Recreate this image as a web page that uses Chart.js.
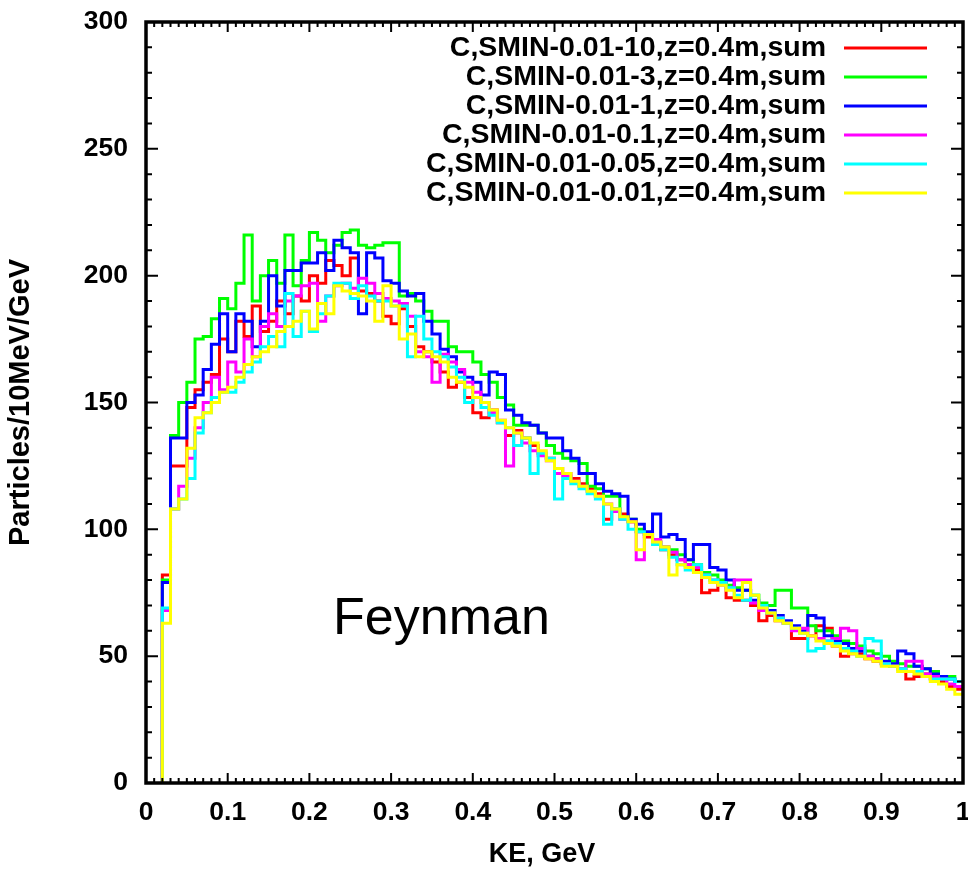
<!DOCTYPE html>
<html>
<head>
<meta charset="utf-8">
<script src="https://cdn.jsdelivr.net/npm/chart.js@4.4.0/dist/chart.umd.min.js"></script>
<style>
  html, body { margin: 0; padding: 0; background: #fff; }
  canvas { display: block; }
</style>
</head>
<body>
<canvas id="graf" width="968" height="871"></canvas>
<script>
// ---- DADOS: contagens por bin de 10 MeV, a partir de KE = 0.02 GeV ----
const firstBin = 0.02;
const binWidth = 0.01;

const seriesNames = [
  "C,SMIN-0.01-10,z=0.4m,sum",
  "C,SMIN-0.01-3,z=0.4m,sum",
  "C,SMIN-0.01-1,z=0.4m,sum",
  "C,SMIN-0.01-0.1,z=0.4m,sum",
  "C,SMIN-0.01-0.05,z=0.4m,sum",
  "C,SMIN-0.01-0.01,z=0.4m,sum"
];
const seriesColors = ["#ff0000", "#00ff00", "#0000ff", "#ff00ff", "#00ffff", "#ffff00"];

const smin10 = [
  82, 125, 125, 148, 155, 158, 161, 175, 170, 182,
  176, 188, 178, 182, 190, 185, 192, 190, 200, 197,
  206, 204, 200, 207, 194, 193, 190, 184, 181, 187,
  180, 172, 170, 166, 162, 156, 158, 152, 146, 144,
  147, 142, 137, 139, 136, 133, 130, 128, 124, 122,
  120, 118, 116, 114, 104, 108, 106, 103, 99, 97,
  95, 92, 90, 88, 86, 84, 75, 76, 79, 73,
  72, 72, 70, 64, 66, 64, 63, 57, 57, 58,
  62, 61, 54, 50, 51, 51, 49, 48, 47, 46,
  45, 41, 42, 43, 41, 40, 38, 37
];
const smin3 = [
  80, 137, 150, 158, 175, 176, 183, 191, 187, 197,
  216, 190, 200, 206, 197, 216, 196, 206, 217, 214,
  209, 212, 217, 218, 212, 211, 212, 213, 213, 192,
  193, 190, 186, 182, 182, 172, 170, 170, 166, 161,
  158, 152, 149, 141, 141, 141, 138, 133, 130, 128,
  127, 126, 117, 116, 113, 113, 105, 104, 100, 98,
  95, 93, 92, 90, 88, 86, 83, 82, 80, 78,
  77, 76, 74, 71, 70, 76, 76, 69, 69, 62,
  60, 60, 58, 56, 55, 54, 52, 51, 50, 48,
  47, 46, 46, 45, 44, 42, 42, 40
];
const smin1 = [
  79, 136, 136, 150, 153, 163, 173, 185, 170, 185,
  182, 172, 182, 200, 188, 202, 202, 205, 205, 209,
  202, 214, 211, 209, 185, 209, 207, 198, 197, 194,
  192, 193, 182, 177, 171, 168, 162, 160, 158, 153,
  162, 161, 147, 145, 142, 141, 138, 136, 136, 131,
  128, 122, 122, 118, 115, 114, 113, 104, 102, 99,
  106, 97, 98, 96, 88, 94, 94, 85, 84, 80,
  76, 76, 72, 70, 68, 66, 64, 62, 60, 66,
  65, 58, 56, 55, 53, 52, 50, 49, 48, 47,
  52, 51, 46, 45, 43, 42, 41, 40
];
const smin01 = [
  68, 108, 117, 128, 140, 150, 160, 155, 166, 162,
  175, 168, 180, 185, 180, 190, 192, 196, 197, 182,
  192, 196, 197, 195, 199, 197, 193, 191, 190, 189,
  184, 170, 168, 158, 169, 166, 163, 158, 154, 150,
  146, 143, 125, 138, 134, 131, 129, 127, 122, 121,
  119, 117, 115, 113, 110, 107, 104, 103, 88, 98,
  96, 93, 91, 88, 86, 85, 82, 80, 78, 77,
  80, 80, 71, 68, 67, 65, 63, 60, 61, 58,
  57, 56, 57, 61, 60, 53, 50, 49, 47, 46,
  45, 48, 48, 43, 42, 41, 39, 38
];
const smin005 = [
  69, 108, 112, 120, 138, 146, 152, 154, 154, 158,
  162, 166, 172, 176, 172, 193, 176, 186, 178, 185,
  192, 197, 197, 191, 196, 192, 190, 190, 188, 188,
  168, 184, 175, 170, 168, 164, 160, 150, 152, 148,
  145, 142, 140, 133, 136, 122, 130, 128, 112, 120,
  118, 116, 114, 112, 102, 108, 104, 100, 99, 98,
  94, 92, 89, 86, 84, 86, 82, 80, 79, 77,
  74, 72, 74, 70, 67, 65, 63, 61, 59, 52,
  53, 56, 55, 53, 52, 50, 57, 56, 47, 46,
  45, 44, 44, 42, 41, 41, 41, 40
];
const smin001 = [
  63, 108, 112, 132, 144, 146, 150, 154, 156, 160,
  165, 168, 170, 172, 178, 180, 182, 186, 179, 189,
  185, 196, 194, 193, 192, 190, 182, 196, 188, 175,
  177, 168, 170, 168, 166, 160, 158, 156, 152, 150,
  147, 143, 140, 138, 136, 134, 131, 127, 124, 122,
  119, 117, 115, 113, 110, 108, 105, 103, 92, 98,
  95, 93, 82, 86, 85, 83, 81, 79, 78, 76,
  73, 79, 74, 69, 67, 64, 63, 61, 59, 58,
  56, 55, 54, 52, 51, 50, 49, 48, 46, 46,
  44, 44, 43, 42, 40, 39, 37, 35
];

const xTicks = [0, 0.1, 0.2, 0.3, 0.4, 0.5, 0.6, 0.7, 0.8, 0.9, 1];
const yTicks = [0, 50, 100, 150, 200, 250, 300];

// ---- histograma em degraus: cada valor cobre [x, x + 0.01] ----
function toSteps(vals) {
  const pts = [{ x: firstBin, y: 0 }];
  vals.forEach((v, i) => pts.push({ x: +(firstBin + i * binWidth).toFixed(2), y: v }));
  pts.push({ x: 1.0, y: vals[vals.length - 1] });
  return pts;
}

const allSeries = [smin10, smin3, smin1, smin01, smin005, smin001];
const datasets = allSeries.map((vals, i) => ({
  label: seriesNames[i],
  data: toSteps(vals),
  borderColor: seriesColors[i],
  borderWidth: 3,
  pointRadius: 0,
  stepped: "before",
  fill: false,
  order: allSeries.length - i
}));

// ---- moldura, ticks internos, legenda e textos ----
const framePlugin = {
  id: "frame",
  afterDraw(chart) {
    const { ctx, chartArea: a, scales } = chart;
    const xs = scales.x, ys = scales.y;
    ctx.save();
    ctx.strokeStyle = "#000";
    ctx.lineWidth = 2;
    ctx.beginPath();
    for (let k = 0; k <= 100; k++) {
      const px = xs.getPixelForValue(k / 100);
      const len = k % 10 === 0 ? 10 : 5;
      ctx.moveTo(px, a.bottom); ctx.lineTo(px, a.bottom - len);
      ctx.moveTo(px, a.top); ctx.lineTo(px, a.top + len);
    }
    for (let v = 0; v <= 300; v += 10) {
      const py = ys.getPixelForValue(v);
      const len = v % 50 === 0 ? 12 : 6;
      ctx.moveTo(a.left, py); ctx.lineTo(a.left + len, py);
      ctx.moveTo(a.right, py); ctx.lineTo(a.right - len, py);
    }
    ctx.stroke();
    ctx.lineWidth = 3.5;
    ctx.strokeRect(a.left, a.top, a.right - a.left, a.bottom - a.top);

    // legenda estilo gnuplot
    ctx.font = "bold 28.5px 'Liberation Sans', Arial, sans-serif";
    ctx.textAlign = "right";
    ctx.textBaseline = "middle";
    seriesNames.forEach((name, i) => {
      const y = 48 + i * 29;
      ctx.fillStyle = "#000";
      ctx.fillText(name, 826, y);
      ctx.strokeStyle = seriesColors[i];
      ctx.lineWidth = 3;
      ctx.beginPath();
      ctx.moveTo(844, y); ctx.lineTo(927, y);
      ctx.stroke();
    });

    // titulo do eixo x (levemente a esquerda do centro, como no original)
    ctx.font = "bold 27px 'Liberation Sans', Arial, sans-serif";
    ctx.textAlign = "center";
    ctx.fillStyle = "#000";
    ctx.fillText("KE, GeV", 542, 855);

    ctx.font = "52px 'Liberation Sans', Arial, sans-serif";
    ctx.textAlign = "left";
    ctx.textBaseline = "alphabetic";
    ctx.fillText("Feynman", xs.getPixelForValue(0.229), ys.getPixelForValue(58.7));
    ctx.restore();
  }
};

const tickFont = { family: "'Liberation Sans', Arial, sans-serif", size: 26.5, weight: "bold" };

new Chart(document.getElementById("graf").getContext("2d"), {
  type: "line",
  data: { datasets },
  options: {
    responsive: false,
    animation: false,
    layout: { padding: { top: 22, right: 5, left: 0, bottom: 0 } },
    plugins: { legend: { display: false }, tooltip: { enabled: false } },
    scales: {
      x: {
        type: "linear",
        min: 0, max: 1,
        afterBuildTicks: (s) => { s.ticks = xTicks.map(v => ({ value: v })); },
        afterFit: (s) => { s.height = 88; s.paddingLeft = 0; s.paddingRight = 0; },
        grid: { display: false, drawTicks: false },
        border: { display: false },
        ticks: {
          color: "#000", font: tickFont, padding: 14, maxRotation: 0,
          callback: (v) => (v === 0 || v === 1) ? String(v) : v.toFixed(1)
        }
      },
      y: {
        min: 0, max: 300,
        afterBuildTicks: (s) => { s.ticks = yTicks.map(v => ({ value: v })); },
        afterFit: (s) => { s.width = 146; s.paddingTop = 0; s.paddingBottom = 0; },
        grid: { display: false, drawTicks: false },
        border: { display: false },
        ticks: { color: "#000", font: tickFont, padding: 18 },
        title: {
          display: true, text: "Particles/10MeV/GeV", color: "#000",
          font: { family: "'Liberation Sans', Arial, sans-serif", size: 29, weight: "bold" },
          padding: { top: 4, bottom: 0 }
        }
      }
    }
  },
  plugins: [framePlugin]
});
</script>
</body>
</html>
